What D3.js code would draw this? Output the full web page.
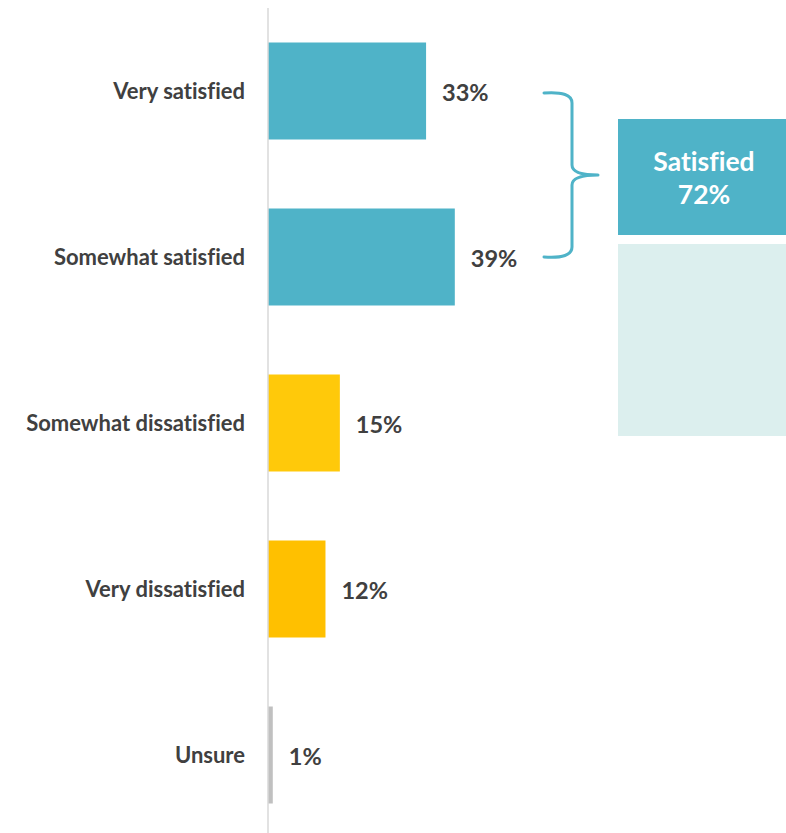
<!DOCTYPE html>
<html>
<head>
<meta charset="utf-8">
<script src="https://cdn.jsdelivr.net/npm/d3@7"></script>
<style>
  html, body { margin: 0; padding: 0; background: #fff; }
  svg { display: block; font-family: Lato, "Open Sans", sans-serif; font-variant-ligatures: none; }
</style>
</head>
<body>
<svg id="chart" width="786" height="833"></svg>
<script>
// Survey responses: share of respondents per satisfaction level
const categories = ["Very satisfied", "Somewhat satisfied", "Somewhat dissatisfied", "Very dissatisfied", "Unsure"];
const values = [33, 39, 15, 12, 1];
const barColors = ["#4FB3C8", "#4FB3C8", "#FFC90A", "#FFC000", "#C0C0C0"];
const satisfiedGroup = ["Very satisfied", "Somewhat satisfied"];
const summaryLabel = "Satisfied";

const svg = d3.select("#chart");
const axisX = 268;

const x = d3.scaleLinear().domain([0, 100]).range([axisX, axisX + 479]);
const y = d3.scaleBand().domain(categories).range([1, 845]).paddingInner(0.4157).paddingOuter(0.25);

// bars
svg.selectAll("rect.bar")
  .data(categories)
  .join("rect")
  .attr("class", "bar")
  .attr("x", x(0))
  .attr("y", d => y(d))
  .attr("width", (d, i) => x(values[i]) - x(0))
  .attr("height", y.bandwidth())
  .attr("fill", (d, i) => barColors[i]);

// vertical category axis line
svg.append("line")
  .attr("x1", axisX).attr("x2", axisX)
  .attr("y1", 8).attr("y2", 833)
  .attr("stroke", "#D9D9D9").attr("stroke-width", 1.5);

// category labels
svg.selectAll("text.cat")
  .data(categories)
  .join("text")
  .attr("class", "cat")
  .attr("x", axisX - 23)
  .attr("y", d => y(d) + y.bandwidth() / 2)
  .attr("dy", "0.35em")
  .attr("text-anchor", "end")
  .attr("font-size", 22)
  .attr("font-weight", 700)
  .attr("fill", "#404040")
  .text(d => d);

// value labels
svg.selectAll("text.val")
  .data(categories)
  .join("text")
  .attr("class", "val")
  .attr("x", (d, i) => x(values[i]) + 16)
  .attr("y", d => y(d) + y.bandwidth() / 2 + 2)
  .attr("dy", "0.35em")
  .attr("font-size", 23.5)
  .attr("font-weight", 700)
  .attr("fill", "#404040")
  .text((d, i) => values[i] + "%");

// brace grouping the satisfied categories
const yTop = y(satisfiedGroup[0]) + y.bandwidth() / 2 + 2;
const yBot = y(satisfiedGroup[1]) + y.bandwidth() / 2;
const yMid = (yTop + yBot) / 2;
const bx0 = 544, bx1 = 572, bx2 = 598;
const brace = d3.path();
brace.moveTo(bx0, yTop);
brace.quadraticCurveTo(bx1, yTop - 2, bx1, yTop + 10);
brace.lineTo(bx1, yMid - 10);
brace.quadraticCurveTo(bx1, yMid, bx2, yMid);
brace.moveTo(bx0, yBot);
brace.quadraticCurveTo(bx1, yBot + 2, bx1, yBot - 10);
brace.lineTo(bx1, yMid + 10);
brace.quadraticCurveTo(bx1, yMid, bx2, yMid);
svg.append("path")
  .attr("d", brace.toString())
  .attr("fill", "none")
  .attr("stroke", "#4FB3C8")
  .attr("stroke-width", 3)
  .attr("stroke-linecap", "round");

// summary boxes
const satisfiedTotal = d3.sum(satisfiedGroup, c => values[categories.indexOf(c)]);
svg.append("rect")
  .attr("x", 618).attr("y", 119).attr("width", 168).attr("height", 116)
  .attr("fill", "#4FB3C8");
svg.append("rect")
  .attr("x", 618).attr("y", 244).attr("width", 168).attr("height", 192)
  .attr("fill", "#DCEFEE");
const box = svg.append("text")
  .attr("text-anchor", "middle")
  .attr("font-size", 26.5)
  .attr("font-weight", 700)
  .attr("fill", "#FFFFFF");
box.append("tspan").attr("x", 704).attr("y", 171).text(summaryLabel);
box.append("tspan").attr("x", 704).attr("y", 204).text(satisfiedTotal + "%");
</script>
</body>
</html>
